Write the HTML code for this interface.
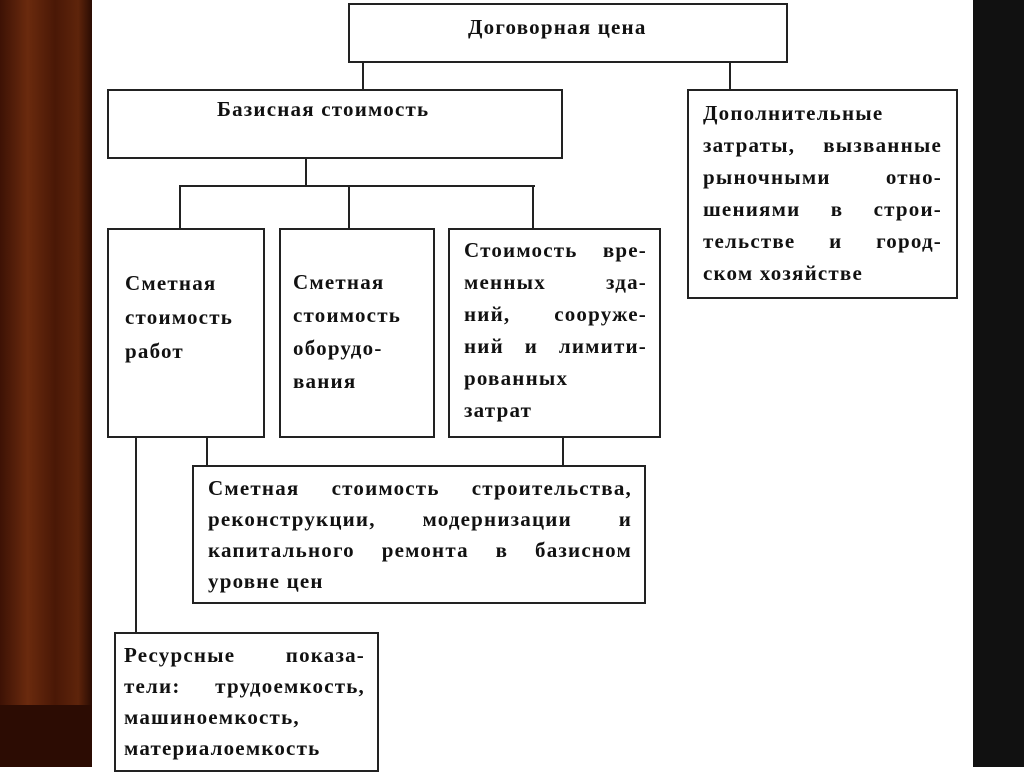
<!DOCTYPE html>
<html><head><meta charset="utf-8"><style>
body{margin:0;width:1024px;height:767px;overflow:hidden;background:#fff;position:relative;font-family:"Liberation Serif","DejaVu Serif",serif;}
.curL{position:absolute;left:0;top:0;width:92px;height:767px;background:linear-gradient(90deg,#3d1205,#6a2a0e 30%,#4a1806 60%,#5e240b 85%,#2a0c03);}
.curL2{position:absolute;left:0;top:705px;width:92px;height:62px;background:#2c0c03;}
.curR{position:absolute;left:973px;top:0;width:51px;height:767px;background:#111;}
.b{position:absolute;border:2px solid #222;box-sizing:border-box;}
.t{position:absolute;font-size:21px;color:#111;font-weight:bold;letter-spacing:1.2px;white-space:nowrap;}
.j{text-align:justify;text-align-last:justify;}
.l{position:absolute;background:#222;}
</style></head><body>
<div class="curL"></div><div class="curL2"></div><div class="curR"></div>
<div class="b" style="left:348px;top:3px;width:440px;height:60px"></div>
<div class="b" style="left:107px;top:89px;width:456px;height:70px"></div>
<div class="b" style="left:687px;top:89px;width:271px;height:210px"></div>
<div class="b" style="left:107px;top:228px;width:158px;height:210px"></div>
<div class="b" style="left:279px;top:228px;width:156px;height:210px"></div>
<div class="b" style="left:448px;top:228px;width:213px;height:210px"></div>
<div class="b" style="left:192px;top:465px;width:454px;height:139px"></div>
<div class="b" style="left:114px;top:632px;width:265px;height:140px"></div>

<div class="t" style="left:468px;top:15px">Договорная цена</div>
<div class="t" style="left:217px;top:97px">Базисная стоимость</div>

<div class="t" style="left:703px;top:97px;width:239px;white-space:normal;line-height:32px">
<div style="height:32px">Дополнительные</div>
<div class="j" style="height:32px">затраты, вызванные</div>
<div class="j" style="height:32px">рыночными отно-</div>
<div class="j" style="height:32px">шениями в строи-</div>
<div class="j" style="height:32px">тельстве и город-</div>
<div style="height:32px">ском хозяйстве</div></div>

<div class="t" style="left:125px;top:266px;line-height:34px;white-space:normal">Сметная<br>стоимость<br>работ</div>
<div class="t" style="left:293px;top:266px;line-height:33px;white-space:normal">Сметная<br>стоимость<br>оборудо-<br>вания</div>

<div class="t" style="left:464px;top:234px;width:183px;white-space:normal;line-height:32px">
<div class="j" style="height:32px">Стоимость вре-</div>
<div class="j" style="height:32px">менных зда-</div>
<div class="j" style="height:32px">ний, сооруже-</div>
<div class="j" style="height:32px">ний и лимити-</div>
<div style="height:32px">рованных</div>
<div style="height:32px">затрат</div></div>

<div class="t" style="left:208px;top:473px;width:424px;white-space:normal;line-height:31px">
<div class="j" style="height:31px">Сметная стоимость строительства,</div>
<div class="j" style="height:31px">реконструкции, модернизации и</div>
<div class="j" style="height:31px">капитального ремонта в базисном</div>
<div style="height:31px">уровне цен</div></div>

<div class="t" style="left:124px;top:640px;width:241px;white-space:normal;line-height:31px">
<div class="j" style="height:31px">Ресурсные показа-</div>
<div class="j" style="height:31px">тели: трудоемкость,</div>
<div style="height:31px">машиноемкость,</div>
<div style="height:31px">материалоемкость</div></div>

<div class="l" style="left:362px;top:62px;width:2px;height:28px"></div>
<div class="l" style="left:729px;top:62px;width:2px;height:28px"></div>
<div class="l" style="left:305px;top:158px;width:2px;height:28px"></div>
<div class="l" style="left:179px;top:185px;width:356px;height:2px"></div>
<div class="l" style="left:179px;top:185px;width:2px;height:44px"></div>
<div class="l" style="left:348px;top:185px;width:2px;height:44px"></div>
<div class="l" style="left:532px;top:185px;width:2px;height:44px"></div>
<div class="l" style="left:206px;top:437px;width:2px;height:29px"></div>
<div class="l" style="left:562px;top:437px;width:2px;height:29px"></div>
<div class="l" style="left:135px;top:437px;width:2px;height:196px"></div>
</body></html>
